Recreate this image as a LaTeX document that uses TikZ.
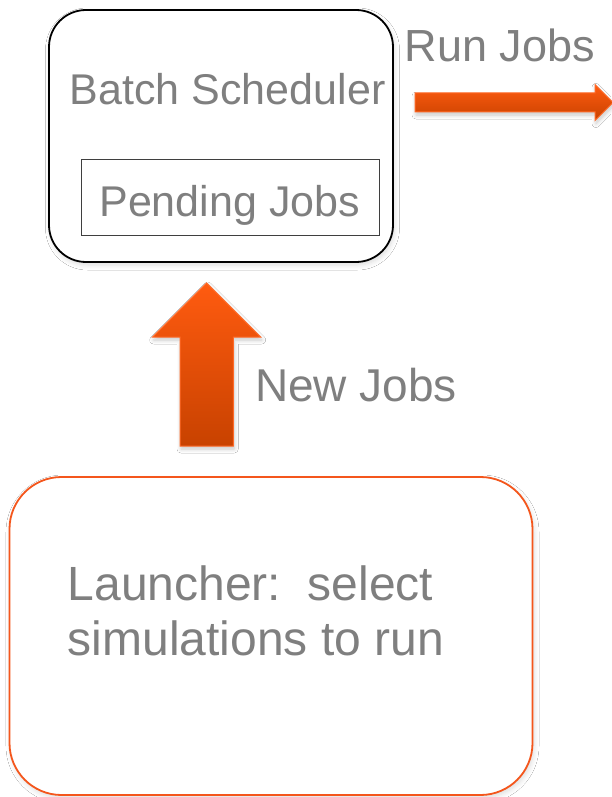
\documentclass[tikz,border=0pt]{standalone}
\usepackage{fontspec}
\setmainfont{Liberation Sans}
\usetikzlibrary{shadows.blur}

\definecolor{txtgray}{HTML}{7F7F7F}
\definecolor{innergray}{HTML}{3F3F3F}
\definecolor{launchorange}{HTML}{F4561C}
\definecolor{arrowtop}{HTML}{FF5B10}
\definecolor{arrowbot}{HTML}{C84200}
\definecolor{arrowedge}{HTML}{FF6A28}

\tikzset{
  softshadow/.style={blur shadow={shadow xshift=1.5pt, shadow yshift=-3pt,
      shadow blur steps=6, shadow opacity=14, shadow blur radius=5pt}},
  blockarrow/.style={top color=arrowtop, bottom color=arrowbot,
      draw=arrowedge, line width=1pt, blur shadow={shadow xshift=1pt,
      shadow yshift=-3pt, shadow blur steps=6, shadow opacity=22,
      shadow blur radius=4pt}},
  label/.style={text=txtgray, inner sep=0pt},
}

\begin{document}
\begin{tikzpicture}[x=1pt, y=-1pt]
  \path[use as bounding box, fill=white] (0,0) rectangle (611,797);

  % scheduler box and its pending-job queue
  \node[draw=black, line width=1.8pt, rounded corners=37pt, fill=white,
        minimum width=344pt, minimum height=252pt, softshadow]
        (sched) at (221,136) {};
  \node[label, anchor=base, font=\fontsize{43}{50}\selectfont]
        (schedtext) at (227.7,105) {Batch Scheduler};
  \node[draw=innergray, line width=0.9pt, fill=white,
        minimum width=298pt, minimum height=76pt, inner sep=0pt]
        (queue) at (230,197) {};
  \node[label, anchor=base, font=\fontsize{43}{50}\selectfont]
        (queuetext) at (229.7,216.5) {Pending Jobs};

  % outgoing jobs
  \node[label, anchor=base, font=\fontsize{45}{50}\selectfont]
        (runtext) at (500,62) {Run Jobs};
  \path[blockarrow]
        (415,93) -- (595,93) -- (595,84.5) -- (613,102.5) -- (595,120.5)
        -- (595,112) -- (415,112) -- cycle;

  % incoming jobs
  \path[blockarrow]
        (180,446) -- (180,337) -- (152.7,337) -- (206.7,283) -- (260.7,337)
        -- (233.3,337) -- (233.3,446) -- cycle;
  \node[label, anchor=base, font=\fontsize{46}{50}\selectfont]
        (newtext) at (356,401.5) {New Jobs};

  % launcher
  \node[draw=launchorange, line width=1.8pt, rounded corners=52pt, fill=white,
        minimum width=523pt, minimum height=318pt, softshadow]
        (launcher) at (271,636) {};
  \node[label, anchor=base west, align=left,
        font=\fontsize{48}{55}\selectfont]
        (launchtext) at (67.5,655) {Launcher:\ \ select\\simulations to run};
\end{tikzpicture}
\end{document}
